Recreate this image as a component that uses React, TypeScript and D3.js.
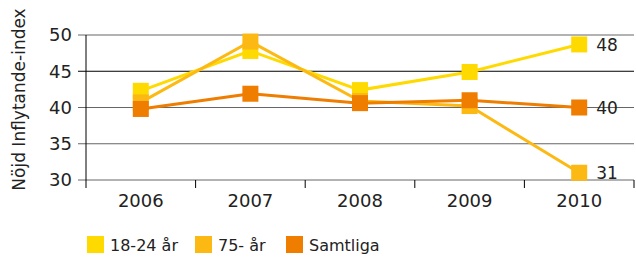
import * as d3 from "d3";
import React from "react";

const years = ["2006", "2007", "2008", "2009", "2010"];
const young = [42.3, 47.8, 42.4, 44.9, 48.7];
const old = [40.7, 49.1, 40.9, 40.2, 31.0];
const total = [39.8, 41.9, 40.6, 41.0, 40.0];
const seriesNames = ["18-24 år", "75- år", "Samtliga"];
const endLabels = ["48", "31", "40"];
const yTicks = [30, 35, 40, 45, 50];

const colors = ["#ffda00", "#fdb913", "#ee7d00"];

const width = 636;
const height = 258;
const marginLeft = 86;
const marginRight = 2;
const marginTop = 35;
const plotBottom = 180;
const font = "'DejaVu Sans', Verdana, sans-serif";

const App = () => {
  const x = d3
    .scaleBand()
    .domain(years)
    .range([marginLeft, width - marginRight]);
  const y = d3.scaleLinear([30, 50], [plotBottom, marginTop]);
  const cx = (yr: string) => (x(yr) ?? 0) + x.bandwidth() / 2;
  const line = d3
    .line<number>()
    .x((d, i) => cx(years[i]))
    .y((d) => y(d));

  const series = [young, old, total];
  const boundaries = [...years.map((yr) => x(yr) ?? 0), width - marginRight];

  return (
    <svg
      width={width}
      height={height}
      style={{ position: "absolute", left: 0, top: 0 }}
      fontFamily={font}
    >
      <text x={8} y={-5} fontSize={17} fontWeight="bold" fill="#000">
        Ungdomars inflytande per åldersgrupp
      </text>
      {/* grid */}
      {yTicks.map((t) => (
        <g key={t}>
          <line
            x1={marginLeft - 8}
            x2={width - marginRight}
            y1={y(t)}
            y2={y(t)}
            stroke={t === 45 ? "#000" : "#666"}
            strokeWidth={1}
          />
          <text
            x={72}
            y={y(t)}
            dy="0.36em"
            textAnchor="end"
            fontSize={18}
            fill="#222"
          >
            {t}
          </text>
        </g>
      ))}
      <line
        x1={marginLeft}
        x2={marginLeft}
        y1={marginTop}
        y2={plotBottom + 8}
        stroke="#000"
      />
      {boundaries.slice(1).map((b, i) => (
        <line
          key={i}
          x1={b}
          x2={b}
          y1={plotBottom}
          y2={plotBottom + 8}
          stroke="#000"
        />
      ))}
      {years.map((yr) => (
        <text
          key={yr}
          x={cx(yr)}
          y={plotBottom + 27}
          textAnchor="middle"
          fontSize={18}
          fill="#222"
        >
          {yr}
        </text>
      ))}
      <text
        transform={`translate(25,${(marginTop + plotBottom) / 2 - 8}) rotate(-90)`}
        textAnchor="middle"
        fontSize={17}
        fill="#222"
      >
        Nöjd Inflytande-index
      </text>
      {/* series */}
      {series.map((s, si) => (
        <g key={si}>
          <path
            d={line(s) ?? undefined}
            fill="none"
            stroke={colors[si]}
            strokeWidth={3}
          />
          {s.map((v, i) => (
            <rect
              key={i}
              x={cx(years[i]) - 8}
              y={y(v) - 8}
              width={16}
              height={16}
              fill={colors[si]}
            />
          ))}
          <text
            x={cx(years[years.length - 1]) + 17}
            y={y(s[s.length - 1])}
            dy="0.36em"
            fontSize={17}
            fill="#222"
          >
            {endLabels[si]}
          </text>
        </g>
      ))}
      {/* legend */}
      {seriesNames.map((n, i) => {
        const lx = [87, 195, 286][i];
        return (
          <g key={n}>
            <rect x={lx} y={236} width={17} height={17} fill={colors[i]} />
            <text x={lx + 23} y={245} dy="0.36em" fontSize={16} fill="#222">
              {n}
            </text>
          </g>
        );
      })}
    </svg>
  );
};

export default App;
